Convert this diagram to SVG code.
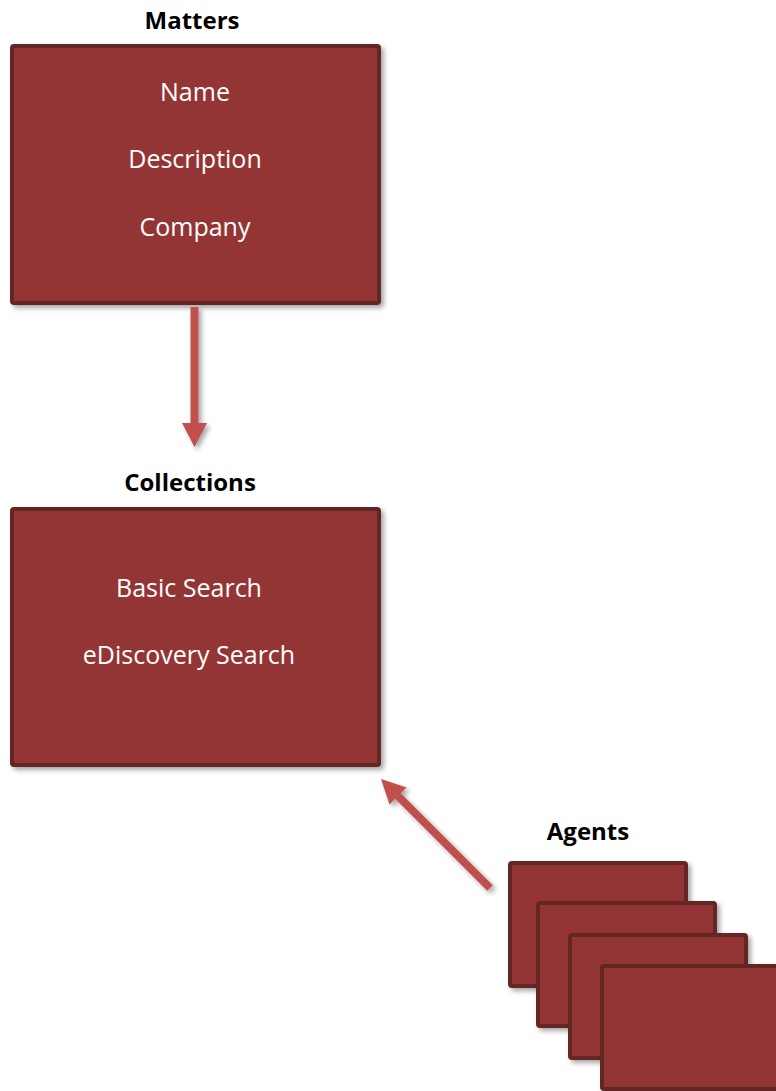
<svg xmlns="http://www.w3.org/2000/svg" width="776" height="1091" viewBox="0 0 776 1091">
  <defs>
    <filter id="shadow" x="-10%" y="-10%" width="130%" height="130%">
      <feDropShadow dx="3" dy="3" stdDeviation="2.5" flood-color="#000" flood-opacity="0.35"/>
    </filter>
    <style>
      .box { fill: #943634; stroke: #632523; stroke-width: 4; filter: url(#shadow); }
      .title { font-family: "Open Sans", "Liberation Sans", sans-serif; font-weight: bold; font-size: 24px; fill: #000; text-anchor: middle; }
      .item { font-family: "Open Sans", "Liberation Sans", sans-serif; font-size: 25px; fill: #fff; text-anchor: middle; }
      .arrow { fill: #C0504D; filter: url(#shadow); }
    </style>
  </defs>
  <rect width="776" height="1091" fill="#fff"/>

  <!-- Matters -->
  <g id="matters">
    <text class="title" x="192" y="29">Matters</text>
    <rect class="box" x="12" y="46" width="367" height="257" rx="2"/>
    <text class="item" x="195" y="101">Name</text>
    <text class="item" x="195" y="168">Description</text>
    <text class="item" x="195" y="236">Company</text>
  </g>

  <!-- Collections -->
  <g id="collections">
    <text class="title" x="190" y="491">Collections</text>
    <rect class="box" x="12" y="509" width="367" height="256" rx="2"/>
    <text class="item" x="189" y="597">Basic Search</text>
    <text class="item" x="189" y="664">eDiscovery Search</text>
  </g>

  <!-- Agents: stacked cards -->
  <g id="agents">
    <text class="title" x="588" y="840">Agents</text>
    <rect class="box" x="510" y="863" width="176" height="123" rx="2"/>
    <rect class="box" x="538" y="903" width="177" height="123" rx="2"/>
    <rect class="box" x="570" y="935" width="176" height="123" rx="2"/>
    <rect class="box" x="602" y="966" width="176" height="123" rx="2"/>
  </g>

  <!-- Connectors -->
  <g id="connectors">
    <polygon class="arrow" points="190.5,307 198.5,307 198.5,423 207,423 194.5,447 182,423 190.5,423"/>
    <polygon class="arrow" points="492.8,885.2 400.8,793.2 406.5,787.5 381,779 389.5,804.5 395.2,798.8 487.2,890.8"/>
  </g>
</svg>
